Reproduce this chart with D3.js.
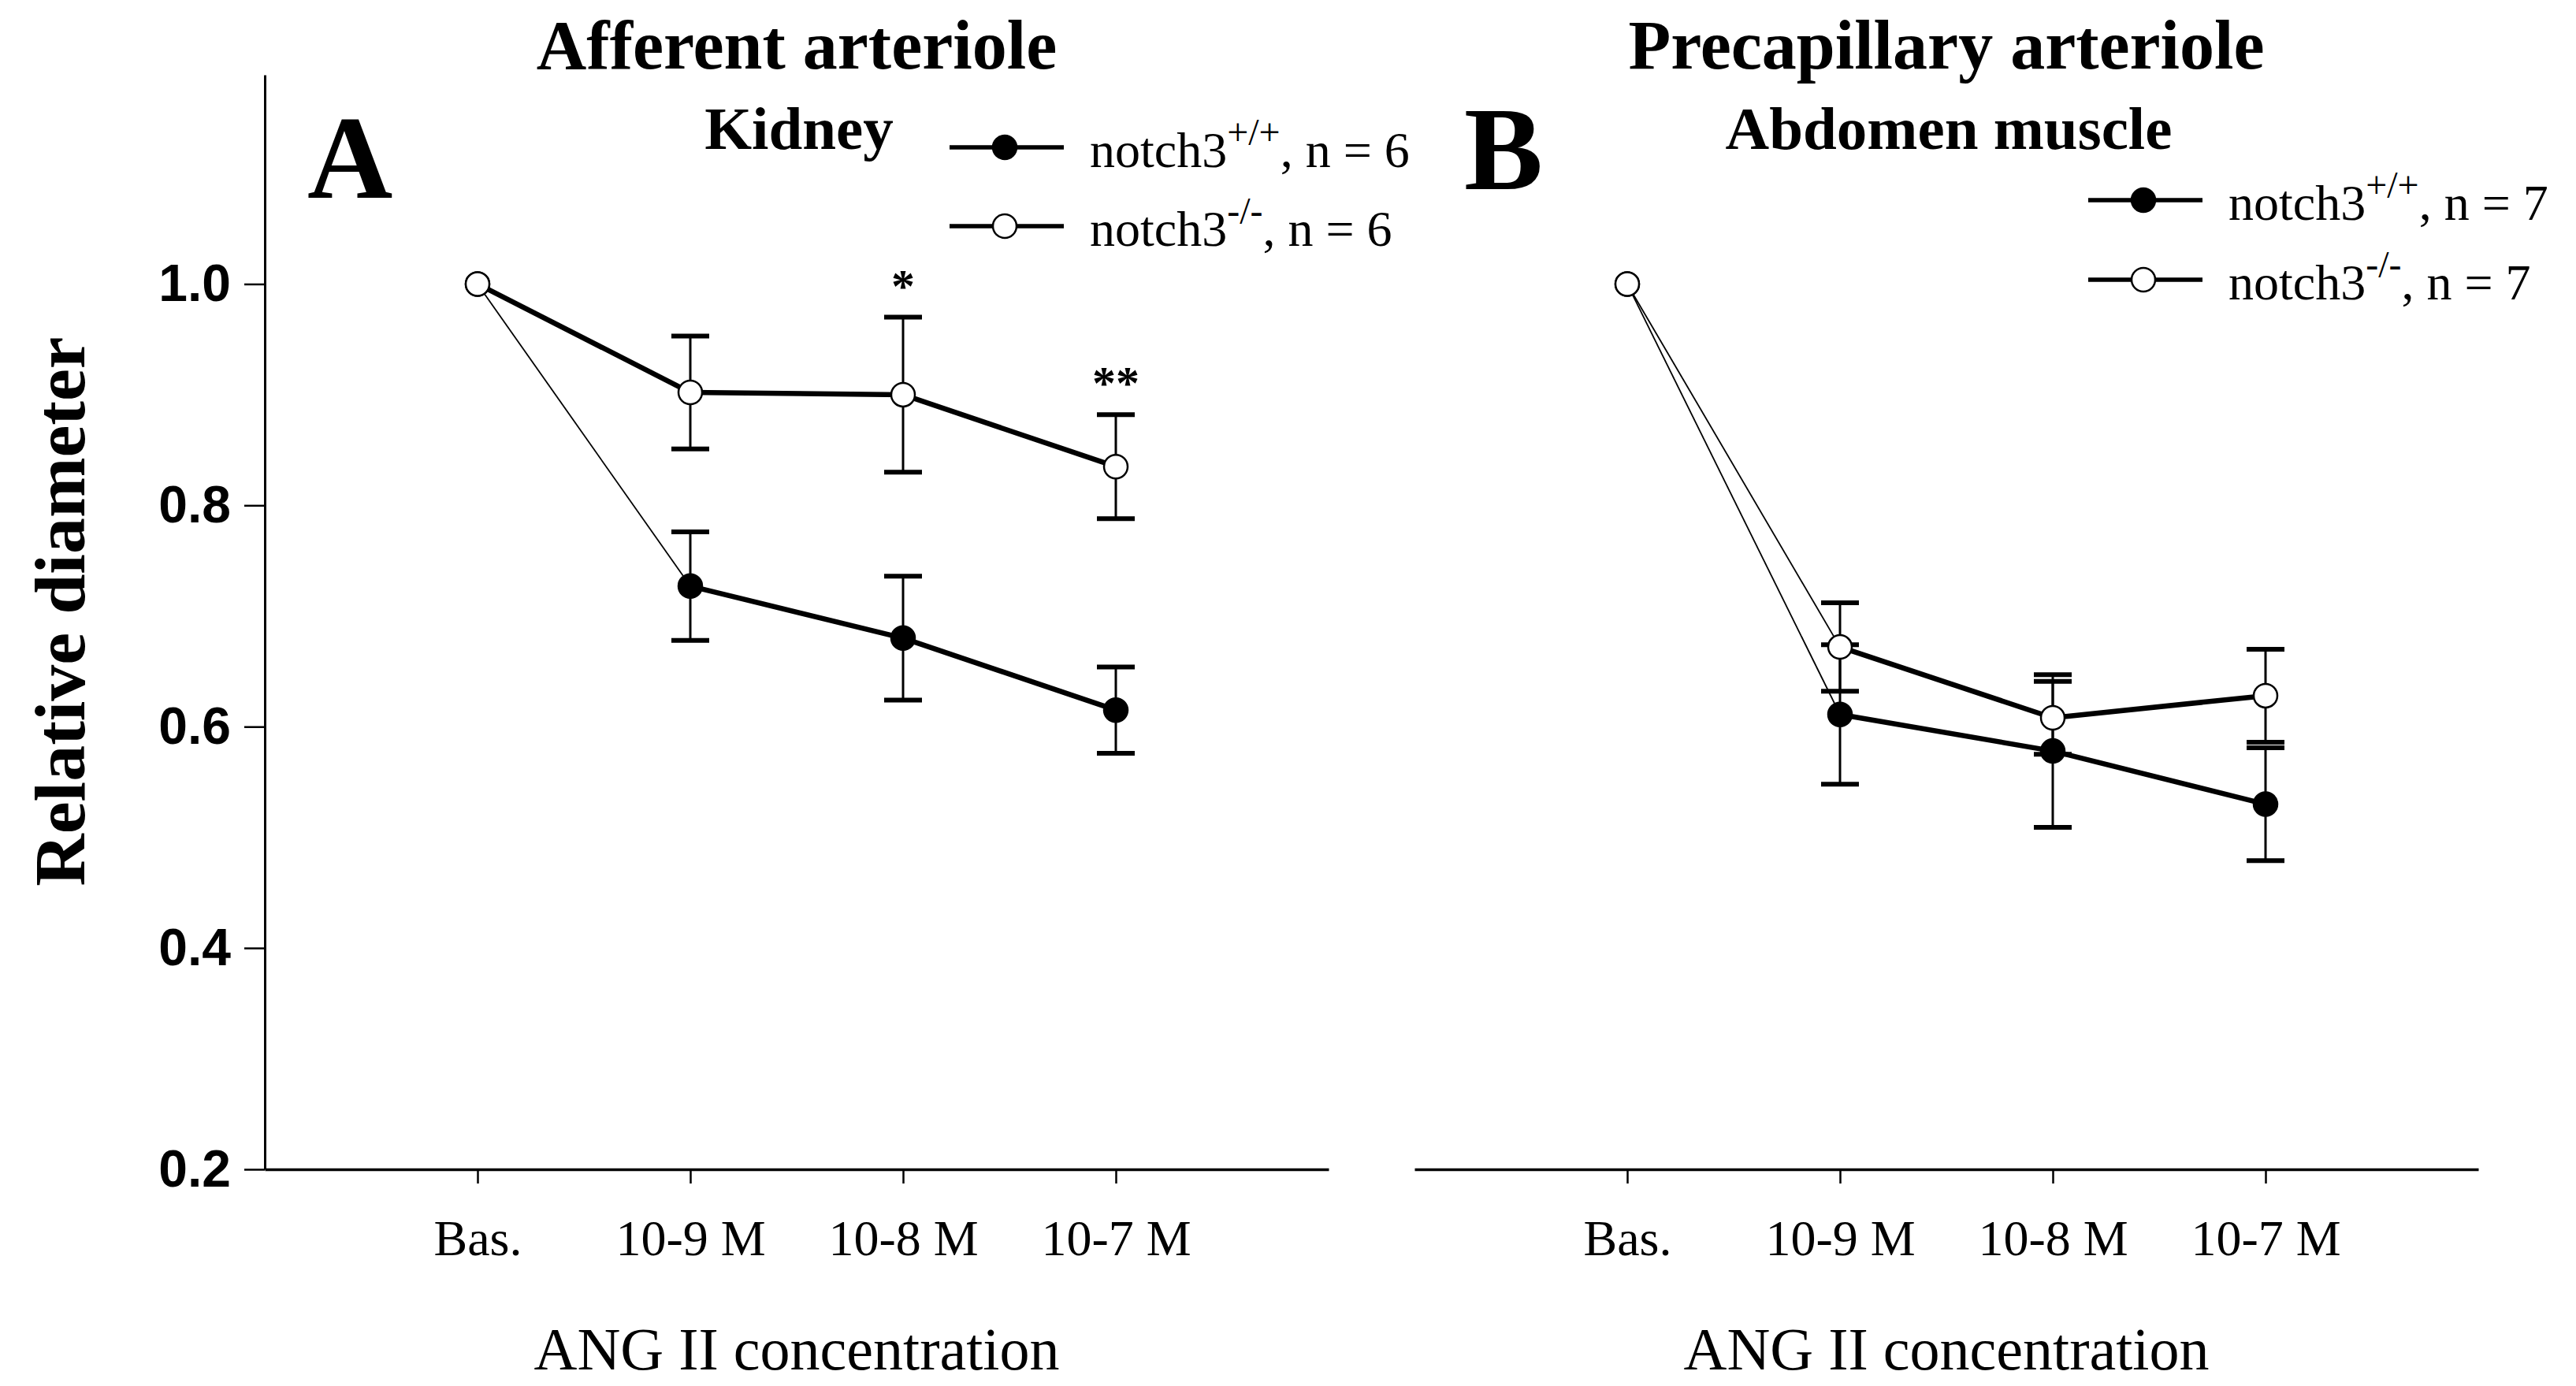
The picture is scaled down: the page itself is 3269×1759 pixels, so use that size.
<!DOCTYPE html>
<html lang="en">
<head>
    <meta charset="UTF-8">
    <title>Relative diameter vs ANG II</title>
    <script src="https://d3js.org/d3.v7.min.js"></script>
    <style>
        body { margin: 0; background: #fff; }
        svg { display: block; }
        text { font-family: "Liberation Serif", "Times New Roman", serif; fill: #000; }
    </style>
</head>
<body>
<svg></svg>
<script>
    // Data
    const categories = ["Bas.", "10-9 M", "10-8 M", "10-7 M"];

    const kidneyWtMean = [1.0, 0.727, 0.680, 0.615];
    const kidneyWtSe   = [0, 0.049, 0.056, 0.039];
    const kidneyKoMean = [1.0, 0.902, 0.900, 0.835];
    const kidneyKoSe   = [0, 0.051, 0.070, 0.047];
    const kidneyStars  = ["", "", "*", "**"];

    const muscleWtMean = [1.0, 0.611, 0.578, 0.530];
    const muscleWtSe   = [0, 0.063, 0.069, 0.051];
    const muscleKoMean = [1.0, 0.672, 0.608, 0.628];
    const muscleKoSe   = [0, 0.040, 0.033, 0.042];
    const muscleStars  = ["", "", "", ""];

    const yTicks = [0.2, 0.4, 0.6, 0.8, 1.0];

    const W = 3269, H = 1759;
    const svg = d3.select("svg").attr("width", W).attr("height", H);

    // shared y scale
    const y = d3.scaleLinear().domain([0.2, 1.189]).range([1484, 95]);

    const panels = [
        {
            ox: 336, title: "Afferent arteriole", sub: "Kidney", subX: 1014,
            letter: "A", letterX: 390, letterY: 251,
            legX: 1205, legY: [187, 287], n: 6, yAxis: true,
            wt: { mean: kidneyWtMean, se: kidneyWtSe, thinFirst: true },
            ko: { mean: kidneyKoMean, se: kidneyKoSe, thinFirst: false },
            stars: kidneyStars
        },
        {
            ox: 1795, title: "Precapillary arteriole", sub: "Abdomen muscle", subX: 2473,
            letter: "B", letterX: 1858, letterY: 240,
            legX: 2650, legY: [254, 355], n: 7, yAxis: false,
            wt: { mean: muscleWtMean, se: muscleWtSe, thinFirst: true },
            ko: { mean: muscleKoMean, se: muscleKoSe, thinFirst: true },
            stars: muscleStars
        }
    ];

    const R = 15;

    panels.forEach(p => {
        const x = d3.scaleLinear().domain([0, 5]).range([p.ox, p.ox + 1350]);
        const g = svg.append("g");
        const cx = (x(0) + x(5)) / 2;

        // x axis
        const xa = g.append("g")
            .attr("transform", `translate(0,${y(0.2)})`)
            .call(d3.axisBottom(x).tickValues([1, 2, 3, 4])
                .tickFormat(i => categories[i - 1])
                .tickSize(18).tickSizeOuter(0));
        xa.select(".domain").attr("stroke-width", 3.5);
        xa.selectAll(".tick line").attr("stroke-width", 2.5);
        xa.selectAll(".tick text")
            .attr("y", 109).attr("dy", 0)
            .style("font-family", '"Liberation Serif", serif')
            .style("font-size", "64px");

        if (p.yAxis) {
            const ya = g.append("g")
                .attr("transform", `translate(${p.ox},0)`)
                .call(d3.axisLeft(y).tickValues(yTicks)
                    .tickFormat(d3.format(".1f"))
                    .tickSize(26).tickSizeOuter(0).tickPadding(17));
            ya.select(".domain").attr("stroke-width", 3);
            ya.selectAll(".tick line").attr("stroke-width", 2.5);
            ya.selectAll(".tick text")
                .style("font-family", '"Liberation Sans", Arial, sans-serif')
                .style("font-weight", "bold")
                .style("font-size", "66px");

            svg.append("text")
                .attr("transform", `translate(107,776) rotate(-90)`)
                .attr("text-anchor", "middle")
                .style("font-weight", "bold")
                .style("font-size", "92px")
                .text("Relative diameter");
        }

        g.append("text")
            .attr("x", cx).attr("y", 1738)
            .attr("text-anchor", "middle")
            .style("font-size", "76px")
            .text("ANG II concentration");

        // titles
        g.append("text").attr("x", cx).attr("y", 87).attr("text-anchor", "middle")
            .style("font-weight", "bold").style("font-size", "88px").text(p.title);
        g.append("text").attr("x", p.subX).attr("y", 189).attr("text-anchor", "middle")
            .style("font-weight", "bold").style("font-size", "77px").text(p.sub);
        g.append("text").attr("x", p.letterX).attr("y", p.letterY)
            .style("font-weight", "bold").style("font-size", "150px").text(p.letter);

        // series drawing helpers
        function drawLine(s) {
            const pts = s.mean.map((m, i) => [x(i + 1), y(m)]);
            for (let i = 0; i < pts.length - 1; i++) {
                g.append("line")
                    .attr("x1", pts[i][0]).attr("y1", pts[i][1])
                    .attr("x2", pts[i + 1][0]).attr("y2", pts[i + 1][1])
                    .attr("stroke", "#000")
                    .attr("stroke-width", (i === 0 && s.thinFirst) ? 1.8 : 6.5);
            }
        }
        function drawErr(s) {
            s.mean.forEach((m, i) => {
                const se = s.se[i];
                if (!se) return;
                const xx = x(i + 1);
                g.append("line")
                    .attr("x1", xx).attr("x2", xx)
                    .attr("y1", y(m - se)).attr("y2", y(m + se))
                    .attr("stroke", "#000").attr("stroke-width", 3);
                [m - se, m + se].forEach(v => {
                    g.append("line")
                        .attr("x1", xx - 24).attr("x2", xx + 24)
                        .attr("y1", y(v)).attr("y2", y(v))
                        .attr("stroke", "#000").attr("stroke-width", 6);
                });
            });
        }
        function drawMarkers(s, fill) {
            g.append("g").selectAll("circle")
                .data(s.mean)
                .join("circle")
                .attr("cx", (d, i) => x(i + 1))
                .attr("cy", d => y(d))
                .attr("r", R)
                .attr("fill", fill)
                .attr("stroke", "#000")
                .attr("stroke-width", 2.5);
        }

        drawErr(p.wt);
        drawLine(p.wt);
        drawMarkers(p.wt, "#000");
        drawErr(p.ko);
        drawLine(p.ko);
        drawMarkers(p.ko, "#fff");

        // significance marks
        p.stars.forEach((s, i) => {
            if (!s) return;
            const top = p.ko.mean[i] + p.ko.se[i];
            g.append("text")
                .attr("x", x(i + 1)).attr("y", y(top) - 20)
                .attr("text-anchor", "middle")
                .style("font-weight", "bold")
                .style("font-size", "60px")
                .text(s);
        });

        // legend
        const legItems = [
            { fill: "#000", sup: "+/+" },
            { fill: "#fff", sup: "-/-" }
        ];
        legItems.forEach((it, k) => {
            const ly = p.legY[k];
            g.append("line")
                .attr("x1", p.legX).attr("x2", p.legX + 145)
                .attr("y1", ly).attr("y2", ly)
                .attr("stroke", "#000").attr("stroke-width", 5.5);
            g.append("circle")
                .attr("cx", p.legX + 70).attr("cy", ly).attr("r", R)
                .attr("fill", it.fill).attr("stroke", "#000").attr("stroke-width", 2.5);
            const t = g.append("text")
                .attr("x", p.legX + 178).attr("y", ly + 25)
                .style("font-size", "64px");
            t.append("tspan").text("notch3");
            t.append("tspan").attr("dy", -28).style("font-size", "48px").text(it.sup);
            t.append("tspan").attr("dy", 28).text(`, n = ${p.n}`);
        });
    });
</script>
</body>
</html>
